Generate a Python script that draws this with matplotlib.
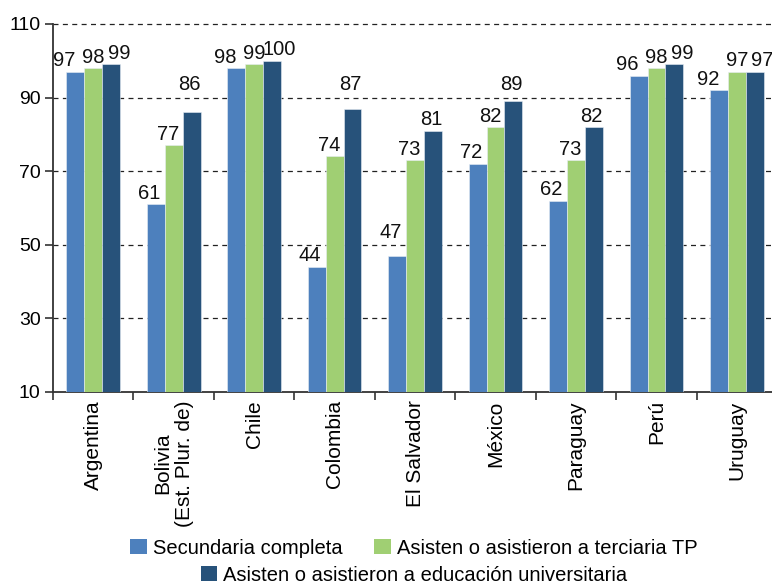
import matplotlib
matplotlib.use("Agg")
import matplotlib.pyplot as plt
import numpy as np
from matplotlib.patches import Patch

plt.rcParams['font.family'] = ['Liberation Sans', 'DejaVu Sans']

categories = ["Argentina", "Bolivia\n(Est. Plur. de)", "Chile", "Colombia", "El Salvador",
              "México", "Paraguay", "Perú", "Uruguay"]
series_names = ["Secundaria completa",
                "Asisten o asistieron a terciaria TP",
                "Asisten o asistieron a educación universitaria"]
secundaria = [97, 61, 98, 44, 47, 72, 62, 96, 92]
terciaria = [98, 77, 99, 74, 73, 82, 73, 98, 97]
universitaria = [99, 86, 100, 87, 81, 89, 82, 99, 97]
yticks = [10, 30, 50, 70, 90, 110]

colors = ["#4D80BD", "#A0CF73", "#27527A"]
# label nudges (points) for groups with well separated / close values
dx_sep = [-5, -4, -1.5]
dx_close = [-8, 0, 5.5]

fig = plt.figure(figsize=(7.72, 5.85), dpi=100)
ax = fig.add_axes([0.0687, 0.330, 0.938, 0.629])

x = np.arange(len(categories))
w = 0.222
all_series = [secundaria, terciaria, universitaria]
for i, (vals, c) in enumerate(zip(all_series, colors)):
    xs = x + (i - 1) * w
    ax.bar(xs, np.array(vals) - 10, bottom=10, width=w, color=c, edgecolor="#e8eef5",
           linewidth=0.4, zorder=3)

for j in range(len(categories)):
    group = [s[j] for s in all_series]
    close = (max(group) - min(group)) <= 5
    for i, v in enumerate(group):
        dx = dx_close[i] if close else dx_sep[i]
        ly = v
        # keep the label clear of a dashed gridline just above the bar
        for g in yticks[1:]:
            if v < g < v + 4.5:
                ly = g + 0.5
        ax.annotate(str(v), (x[j] + (i - 1) * w, ly), xytext=(dx, 1),
                    textcoords="offset points", ha="center", va="bottom",
                    fontsize=14.5, color="#111111", zorder=4)

ax.set_ylim(10, 110)
ax.set_xlim(-0.5, len(categories) - 0.5)
ax.set_yticks(yticks)
ax.set_yticklabels([str(t) for t in yticks], fontsize=14)
for t in yticks[1:]:
    ax.axhline(t, color="#222222", linestyle=(0, (4, 3.5)), linewidth=0.9, zorder=1,
               clip_on=False)

ax.set_xticks(np.arange(len(categories) + 1) - 0.5)
ax.set_xticklabels([])
ax.set_xticks(x, minor=True)
ax.set_xticklabels(categories, minor=True, rotation=90, fontsize=15, va="top",
                   ha="center", multialignment="center")
ax.tick_params(axis="x", which="minor", length=0, pad=6)
ax.tick_params(axis="x", which="major", length=6, width=1.2, color="#333333", direction="out")
ax.tick_params(axis="y", length=6, width=1.2, color="#333333", pad=3)

for s in ["top", "right"]:
    ax.spines[s].set_visible(False)
for s in ["left", "bottom"]:
    ax.spines[s].set_color("#333333")
    ax.spines[s].set_linewidth(1.3)

handles = [Patch(facecolor=c) for c in colors]
kw = dict(frameon=False, fontsize=14.5, handlelength=0.8, handleheight=0.8,
          handletextpad=0.3, columnspacing=1.6, borderaxespad=0, borderpad=0)
fig.legend(handles[:2], series_names[:2], loc="center", ncol=2,
           bbox_to_anchor=(0.536, 0.063), **kw)
fig.legend(handles[2:], series_names[2:], loc="center", ncol=1,
           bbox_to_anchor=(0.536, 0.017), **kw)

fig.savefig("out.png", dpi=100)
